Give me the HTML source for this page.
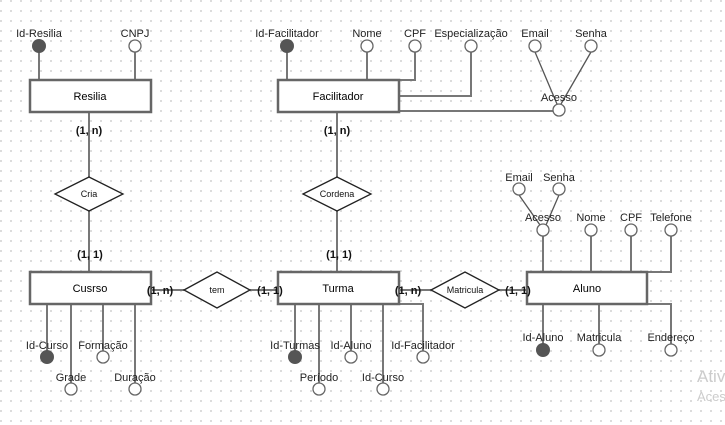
<!DOCTYPE html>
<html><head><meta charset="utf-8"><style>
body{margin:0;width:725px;height:425px;overflow:hidden;background:#fff;background-image:radial-gradient(circle,#d0d0d0 0.8px,transparent 1px);background-size:10px 10px;background-position:-4px -4px}
svg{position:absolute;left:0;top:0}
text{font-family:"Liberation Sans",sans-serif}
.l{font-size:11px;fill:#222;text-anchor:middle}
.e{font-size:11px;fill:#000;text-anchor:middle}
.c{font-size:11px;font-weight:bold;fill:#111;text-anchor:middle}
.r{font-size:9px;fill:#111;text-anchor:middle}
</style></head><body>
<svg width="725" height="425" viewBox="0 0 725 425">
<g stroke="#777" stroke-width="2" fill="none">
<!-- Resilia -->
<path d="M39 52V80M135 52V80"/>
<!-- Facilitador -->
<path d="M287 52V80M367 52V80M415 52V80H399M471 52V96H399M399 111H553"/>
<path d="M535 52L557 104M591 52L561 104" stroke="#555" stroke-width="1.3"/>
<!-- vertical rel lines -->
<path d="M89 112V177M89 211V272M337 112V177M337 211V272"/>
<path d="M151 290H184M250 290H278M399 290H431M499 290H527"/>
<!-- Aluno -->
<path d="M543 236V272M591 236V272M631 236V272M671 236V272H647"/>
<path d="M519 195L540 225M559 195L546 225" stroke="#555" stroke-width="1.3"/>
<path d="M543 304V344M599 304V344M647 304H671V344"/>
<!-- Cursro -->
<path d="M47 304V351M71 304V383M103 304V351M135 304V383"/>
<!-- Turma -->
<path d="M295 304V351M319 304V383M351 304V351M383 304V383M399 304H423V351"/>
</g>
<g stroke="#666" stroke-width="2.5" fill="#fff">
<rect x="30" y="80" width="121" height="32"/>
<rect x="278" y="80" width="121" height="32"/>
<rect x="30" y="272" width="121" height="32"/>
<rect x="278" y="272" width="121" height="32"/>
<rect x="527" y="272" width="120" height="32"/>
</g>
<g stroke="#222" stroke-width="1.3" fill="#fff">
<polygon points="55,194 89,177 123,194 89,211"/>
<polygon points="303,194 337,177 371,194 337,211"/>
<polygon points="184,290 217,272 250,290 217,308"/>
<polygon points="431,290 465,272 499,290 465,308"/>
</g>
<g stroke="#666" stroke-width="1.3" fill="#fff">
<circle cx="135" cy="46" r="6"/><circle cx="367" cy="46" r="6"/><circle cx="415" cy="46" r="6"/><circle cx="471" cy="46" r="6"/><circle cx="535" cy="46" r="6"/><circle cx="591" cy="46" r="6"/><circle cx="559" cy="110" r="6"/>
<circle cx="519" cy="189" r="6"/><circle cx="559" cy="189" r="6"/><circle cx="543" cy="230" r="6"/><circle cx="591" cy="230" r="6"/><circle cx="631" cy="230" r="6"/><circle cx="671" cy="230" r="6"/>
<circle cx="599" cy="350" r="6"/><circle cx="671" cy="350" r="6"/>
<circle cx="71" cy="389" r="6"/><circle cx="103" cy="357" r="6"/><circle cx="135" cy="389" r="6"/>
<circle cx="319" cy="389" r="6"/><circle cx="351" cy="357" r="6"/><circle cx="383" cy="389" r="6"/><circle cx="423" cy="357" r="6"/>
</g>
<g fill="#555"><circle cx="39" cy="46" r="7"/><circle cx="287" cy="46" r="7"/><circle cx="543" cy="350" r="7"/><circle cx="47" cy="357" r="7"/><circle cx="295" cy="357" r="7"/></g>
<g class="l">
<text x="39" y="37">Id-Resilia</text><text x="135" y="37">CNPJ</text>
<text x="287" y="37">Id-Facilitador</text><text x="367" y="37">Nome</text><text x="415" y="37">CPF</text><text x="471" y="37">Especialização</text><text x="535" y="37">Email</text><text x="591" y="37">Senha</text><text x="559" y="101">Acesso</text>
<text x="519" y="181">Email</text><text x="559" y="181">Senha</text><text x="543" y="221">Acesso</text><text x="591" y="221">Nome</text><text x="631" y="221">CPF</text><text x="671" y="221">Telefone</text>
<text x="543" y="341">Id-Aluno</text><text x="599" y="341">Matricula</text><text x="671" y="341">Endereço</text>
<text x="47" y="349">Id-Curso</text><text x="103" y="349">Formação</text><text x="71" y="381">Grade</text><text x="135" y="381">Duração</text>
<text x="295" y="349">Id-Turmas</text><text x="351" y="349">Id-Aluno</text><text x="423" y="349">Id-Facilitador</text><text x="319" y="381">Período</text><text x="383" y="381">Id-Curso</text>
</g>
<g class="e"><text x="90" y="100">Resilia</text><text x="338" y="100">Facilitador</text><text x="90" y="292">Cusrso</text><text x="338" y="292">Turma</text><text x="587" y="292">Aluno</text></g>
<g class="r"><text x="89" y="197">Cria</text><text x="337" y="197">Cordena</text><text x="217" y="293">tem</text><text x="465" y="293">Matricula</text></g>
<g class="c"><text x="89" y="134">(1, n)</text><text x="337" y="134">(1, n)</text><text x="90" y="258">(1, 1)</text><text x="339" y="258">(1, 1)</text>
<text x="160" y="294">(1, n)</text><text x="270" y="294">(1, 1)</text><text x="408" y="294">(1, n)</text><text x="518" y="294">(1, 1)</text></g>
<text x="697" y="382" font-size="17" fill="#ccc" font-family="Liberation Sans">Ativ</text>
<text x="697" y="401" font-size="13" fill="#ccc" font-family="Liberation Sans">Aces</text>
</svg>
</body></html>
